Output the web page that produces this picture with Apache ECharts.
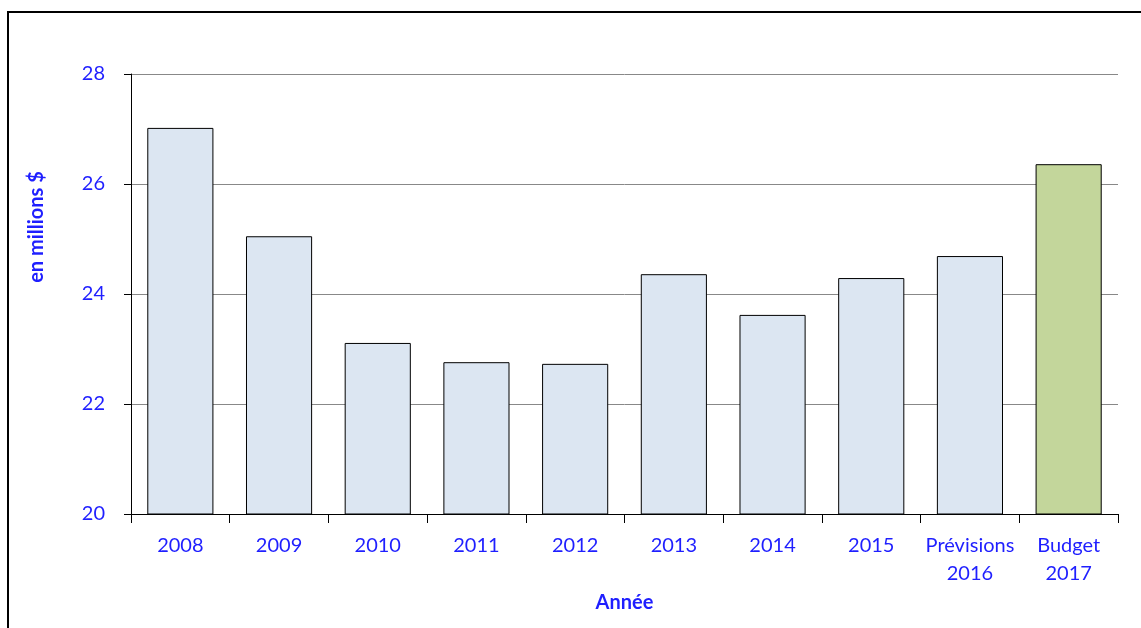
<!DOCTYPE html>
<html><head><meta charset="utf-8">
<script src="https://cdn.jsdelivr.net/npm/echarts@6/dist/echarts.min.js"></script>
<style>html,body{margin:0;padding:0;background:#fff}#c{width:1141px;height:628px}</style>
</head><body><div id="c"></div>
<script>
const categories = ['2008','2009','2010','2011','2012','2013','2014','2015','Prévisions\n2016','Budget\n2017'];
const values = [27.02, 25.05, 23.11, 22.76, 22.73, 24.36, 23.62, 24.29, 24.69, 26.36];
const yTicks = [20, 22, 24, 26, 28];
const barColors = ['#dce6f2','#dce6f2','#dce6f2','#dce6f2','#dce6f2','#dce6f2','#dce6f2','#dce6f2','#dce6f2','#c3d69b'];
const yAxisTitle = 'en millions $';
const blue = '#1f1fff';
const chart = echarts.init(document.getElementById('c'));
chart.setOption({
  animation: false,
  graphic: [
    {type:'rect', shape:{x:8,y:12,width:1300,height:800}, style:{fill:'none', stroke:'#000', lineWidth:2}, z:100},
    {type:'text', x:37, y:227, rotation:Math.PI/2, style:{text:yAxisTitle, fill:blue, font:'bold 20px Lato', align:'center', verticalAlign:'middle'}}
  ],
  grid: {left:131, right:23, top:74, bottom:114},
  xAxis: {
    type:'category', data: categories,
    name:'Année', nameLocation:'middle', nameGap:78,
    nameTextStyle:{color:blue, fontFamily:'Lato', fontWeight:'bold', fontSize:20},
    axisLine:{lineStyle:{color:'#000', width:1}},
    axisTick:{show:true, interval:0, length:9, lineStyle:{color:'#000'}},
    axisLabel:{interval:0, color:blue, fontFamily:'Lato', fontSize:20, margin:18, lineHeight:28}
  },
  yAxis: {
    type:'value', min:yTicks[0], max:yTicks[yTicks.length-1], interval:2,
    axisLine:{show:true, lineStyle:{color:'#000', width:1}},
    axisTick:{show:true, length:7, lineStyle:{color:'#000'}},
    axisLabel:{color:blue, fontFamily:'Lato', fontSize:20, margin:26},
    splitLine:{lineStyle:{color:'#888', width:1}}
  },
  series: [{
    type:'bar', barWidth:'67%',
    data: values.map((v,i)=>({value:v, itemStyle:{color:barColors[i]}})),
    itemStyle:{borderColor:'#000', borderWidth:1}
  }]
});
</script></body></html>
